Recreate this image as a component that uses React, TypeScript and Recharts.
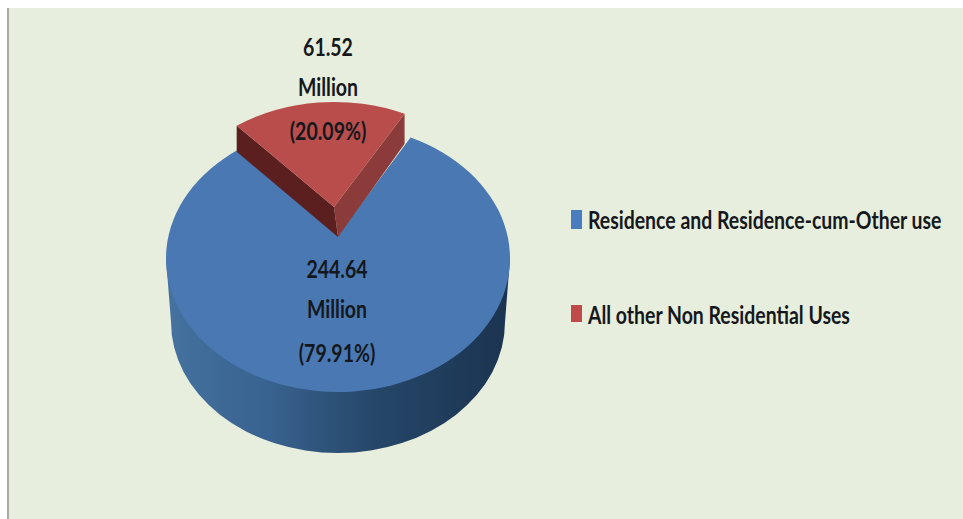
import React from "react";
import { PieChart, Pie, Cell, Legend } from "recharts";

const categories = ["Residence and Residence-cum-Other use", "All other Non Residential Uses"];
const millions = [244.64, 61.52];
const faceColors = ["#4a78b2", "#b84d4b"];
const legendColors = ["#4a7dbe", "#bf4a48"];

const tableRows = categories.map((name, i) => ({ name, value: millions[i] }));
const total = millions.reduce((a, b) => a + b, 0);

const FONT = "Lato, 'Open Sans', sans-serif";

// Ellipse of the blue disc's top face; the hub sits above its centre because of the tilt.
const DISC = { cx: 338, cy: 258.5, rx: 172, ry: 133.5, hubY: 235 };
const DISC_BASE = { cx: 338, cy: 322, rx: 167, ry: 131 };
// The pulled-out wedge uses a slightly smaller ellipse, shifted up.
const WEDGE = { cx: 334, cy: 230, rx: 168, ry: 128, hubY: 207 };
const WEDGE_DROP = { left: 26, hub: 30, hubShift: 4, right: 30 };

type Disc = { cx: number; cy: number; rx: number; ry: number; hubY: number };

// Where a ray from the hub, at a Recharts angle, meets the rim of the ellipse.
function rim(d: Disc, angle: number) {
  const k = d.ry / d.rx;
  const a = (angle * Math.PI) / 180;
  const ux = Math.cos(a);
  const uy = -Math.sin(a);
  const ay = (d.hubY - d.cy) / k;
  const b = ay * uy;
  const t = -b + Math.sqrt(b * b - (ay * ay - d.rx * d.rx));
  return { x: d.cx + t * ux, y: d.cy + (ay + t * uy) * k };
}

function DiscSlice(props: any) {
  const { startAngle, endAngle, fill } = props;
  const s = rim(DISC, startAngle);
  const e = rim(DISC, endAngle);
  const large = Math.abs(endAngle - startAngle) > 180 ? 1 : 0;
  const b = DISC_BASE;
  return (
    <g>
      <path
        d={`M${DISC.cx - DISC.rx},${DISC.cy} L${b.cx - b.rx},${b.cy} A${b.rx},${b.ry} 0 0 0 ${b.cx + b.rx},${b.cy} L${DISC.cx + DISC.rx},${DISC.cy} Z`}
        fill="url(#discWall)"
      />
      <path
        d={`M${DISC.cx},${DISC.hubY} L${s.x},${s.y} A${DISC.rx},${DISC.ry} 0 ${large} 1 ${e.x},${e.y} Z`}
        fill={fill}
      />
    </g>
  );
}

function WedgeSlice(props: any) {
  const { startAngle, endAngle, fill } = props;
  const s = rim(WEDGE, startAngle);
  const e = rim(WEDGE, endAngle);
  const hub = { x: WEDGE.cx, y: WEDGE.hubY };
  const low = { x: hub.x + WEDGE_DROP.hubShift, y: hub.y + WEDGE_DROP.hub };
  return (
    <g>
      <path d={`M${e.x},${e.y} L${hub.x},${hub.y} L${low.x},${low.y} L${e.x},${e.y + WEDGE_DROP.right} Z`} fill="#8b3c3a" />
      <path d={`M${s.x},${s.y} L${hub.x},${hub.y} L${low.x},${low.y} L${s.x},${s.y + WEDGE_DROP.left} Z`} fill="#5a1f1e" />
      <path d={`M${hub.x},${hub.y} L${s.x},${s.y} A${WEDGE.rx},${WEDGE.ry} 0 0 1 ${e.x},${e.y} Z`} fill={fill} />
    </g>
  );
}

function sliceShape(props: any) {
  return props.index === 0 ? <DiscSlice {...props} /> : <WedgeSlice {...props} />;
}

// Three stacked lines: value, unit, share of the total.
const labelSpots = [
  { x: 337, ys: [269, 309, 353] },
  { x: 328, ys: [47, 87, 131] },
];

function sliceLabel(props: any) {
  const { index, value } = props;
  const spot = labelSpots[index];
  const lines = [value.toFixed(2), "Million", `(${((value / total) * 100).toFixed(2)}%)`];
  return (
    <g key={index}>
      {lines.map((t, i) => (
        <text
          key={t}
          transform={`translate(${spot.x},${spot.ys[i]}) scale(0.78,1)`}
          textAnchor="middle"
          dominantBaseline="central"
          fontFamily={FONT}
          fontSize={25}
          fontWeight={700}
          fill="#14181c"
        >
          {t}
        </text>
      ))}
    </g>
  );
}

const legendSwatches = [
  { top: 3, height: 19 },
  { top: 3, height: 17 },
];

function LegendRows({ payload }: any) {
  return (
    <div style={{ fontFamily: FONT }}>
      {(payload ?? []).map((entry: any, i: number) => (
        <div key={entry.value} style={{ position: "absolute", left: 0, top: i * 95, height: 25, whiteSpace: "nowrap" }}>
          <span style={{ position: "absolute", left: 0, top: legendSwatches[i].top, width: 11, height: legendSwatches[i].height, background: legendColors[i] }} />
          <span
            style={{
              position: "absolute",
              left: 17,
              top: 0,
              fontSize: 24,
              fontWeight: 700,
              color: "#14181c",
              lineHeight: "25px",
              transform: "scaleX(0.81)",
              transformOrigin: "left center",
            }}
          >
            {entry.value}
          </span>
        </div>
      ))}
    </div>
  );
}

export default function App() {
  return (
    <div style={{ position: "absolute", left: 0, top: 0, width: 963, height: 519, background: "#ffffff", overflow: "hidden" }}>
      <div style={{ position: "absolute", left: 7, top: 8, width: 956, height: 511, background: "#e8eedd", borderLeft: "2px solid #a9ad9f", boxSizing: "border-box" }} />
      <PieChart width={963} height={519} style={{ position: "absolute", left: 0, top: 0 }}>
        <defs>
          <linearGradient id="discWall" x1="0" y1="0" x2="1" y2="0">
            <stop offset="0" stopColor="#45729f" />
            <stop offset="0.3" stopColor="#38628f" />
            <stop offset="0.6" stopColor="#264769" />
            <stop offset="1" stopColor="#1b3350" />
          </linearGradient>
        </defs>
        <Pie
          data={tableRows}
          dataKey="value"
          nameKey="name"
          cx={338}
          cy={258}
          outerRadius={172}
          startAngle={60}
          endAngle={-300}
          stroke="none"
          shape={sliceShape}
          label={sliceLabel}
          labelLine={false}
          isAnimationActive={false}
        >
          {tableRows.map((row, i) => (
            <Cell key={row.name} fill={faceColors[i]} />
          ))}
        </Pie>
        <Legend
          content={<LegendRows />}
          layout="vertical"
          itemSorter={null}
          wrapperStyle={{ position: "absolute", left: 571, top: 207, width: 390, height: 130 }}
        />
      </PieChart>
    </div>
  );
}
